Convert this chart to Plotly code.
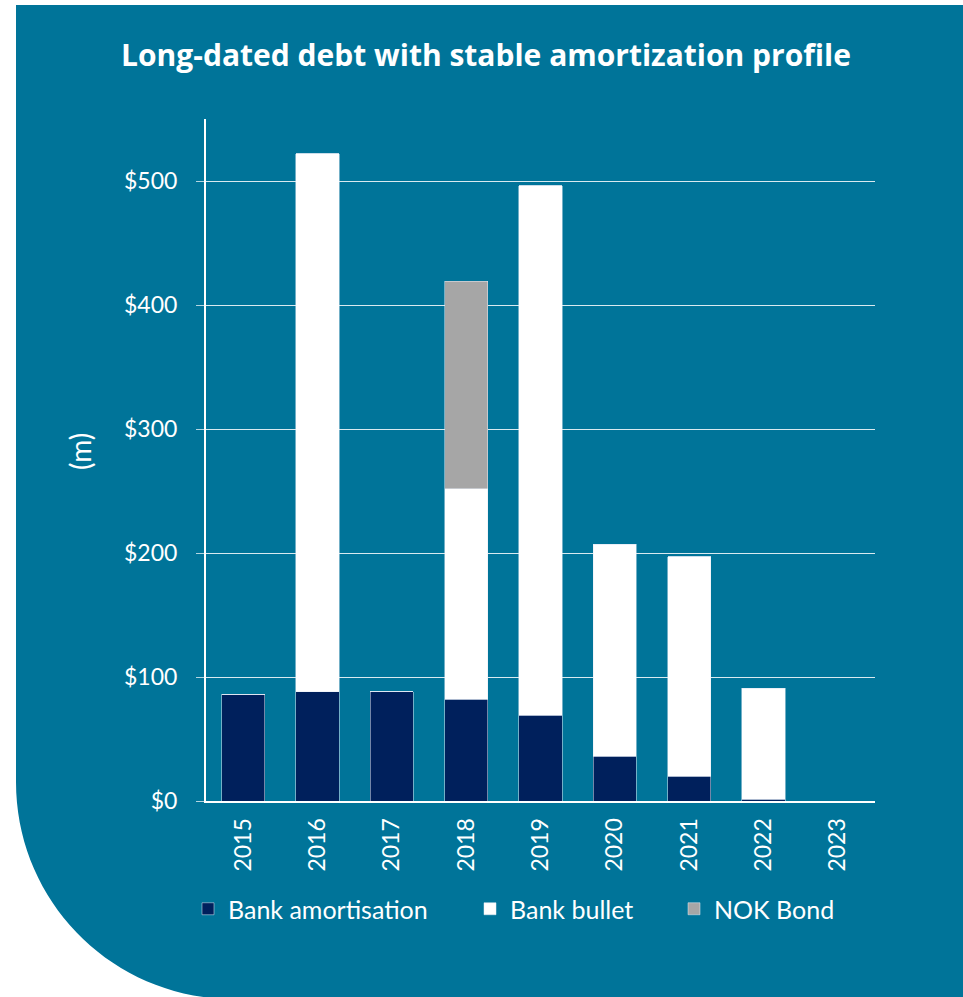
import plotly.graph_objects as go

years = ["2015", "2016", "2017", "2018", "2019", "2020", "2021", "2022", "2023"]
bank_amortisation = [86, 88, 88, 82, 69, 36, 20, 1.5, 0]
bank_bullet = [0, 434, 0, 170, 427, 171, 177, 89.5, 0]
nok_bond = [0, 0, 0, 167, 0, 0, 0, 0, 0]
y_ticks = [0, 100, 200, 300, 400, 500]
y_tick_labels = ["$0", "$100", "$200", "$300", "$400", "$500"]

W, H = 963, 997
L, R, T, B = 206, 88, 119, 196
PW, PH = W - L - R, H - T - B

def px(x):
    return (x - L) / PW

def py(y):
    return (H - B - y) / PH

TEAL = "#007499"
NAVY = "#00205C"
GRAY = "#A6A6A6"
FONT = "Lato"

fig = go.Figure()
fig.add_bar(x=years, y=bank_amortisation, name="Bank amortisation", marker_color=NAVY, legend="legend")
fig.add_bar(x=years, y=bank_bullet, name="Bank bullet", marker_color="#FFFFFF", legend="legend2")
fig.add_bar(x=years, y=nok_bond, name="NOK Bond", marker_color=GRAY, legend="legend3")

# background panel with rounded bottom-left corner
cx, cy, rad = 233, 782, 217
k = 0.5523 * rad
x0, y0 = 16, 5
path = (
    f"M {px(x0)},{py(y0)} L {px(W + 5)},{py(y0)} L {px(W + 5)},{py(H + 5)} "
    f"L {px(cx)},{py(H + 5)} L {px(cx)},{py(cy + rad)} "
    f"C {px(cx - k)},{py(cy + rad)} {px(cx - rad)},{py(cy + k)} {px(cx - rad)},{py(cy)} Z"
)
fig.add_shape(type="path", path=path, xref="paper", yref="paper",
              fillcolor=TEAL, line_width=0, layer="below")

def leg(xpix):
    return dict(orientation="h", x=px(xpix), xanchor="left", y=py(909), yanchor="middle",
                font=dict(family=FONT, size=25, color="#FFFFFF"), bgcolor="rgba(0,0,0,0)")

fig.update_layout(
    width=W, height=H,
    margin=dict(l=L, r=R, t=T, b=B),
    paper_bgcolor="#FFFFFF",
    plot_bgcolor="rgba(0,0,0,0)",
    barmode="stack",
    bargap=0.42,
    font=dict(family=FONT, color="#FFFFFF", size=23),
    title=dict(text="<b>Long-dated debt with stable amortization profile</b>",
               x=486 / W, xanchor="center", xref="container",
               y=1 - 55 / H, yanchor="middle", yref="container",
               font=dict(family="Open Sans", size=30, color="#FFFFFF")),
    showlegend=True,
    legend=leg(188),
    legend2=leg(470),
    legend3=leg(674),
    xaxis=dict(showline=True, linecolor="#FFFFFF", linewidth=2, ticks="",
               tickangle=-90, tickfont=dict(size=23, color="#FFFFFF"),
               ticklabelstandoff=6, showgrid=False, fixedrange=True),
    yaxis=dict(range=[0, 550], tickvals=y_ticks, ticktext=y_tick_labels,
               showline=True, linecolor="#FFFFFF", linewidth=2,
               showgrid=True, gridcolor="rgba(255,255,255,0.85)", gridwidth=1,
               ticks="outside", ticklen=8, tickcolor="rgba(255,255,255,0.7)",
               tickfont=dict(size=23, color="#FFFFFF"), ticklabelstandoff=14,
               zeroline=False, fixedrange=True),
)

fig.add_annotation(text="(m)", textangle=-90, x=px(80), y=py(452), xref="paper", yref="paper",
                   xanchor="center", yanchor="middle",
                   showarrow=False, font=dict(size=28, color="#FFFFFF"))

fig.write_html("out.html", config={"displayModeBar": False},
               post_script="document.body.style.margin='0';")
